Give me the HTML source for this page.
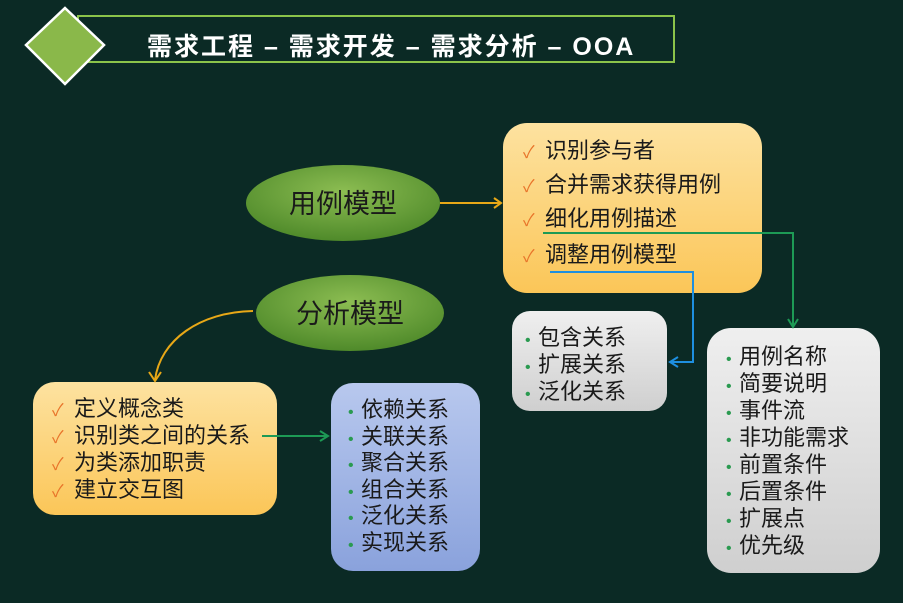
<!DOCTYPE html>
<html><head><meta charset="utf-8"><style>
body{margin:0;width:903px;height:603px;background:#0b2a25;position:relative;overflow:hidden;font-family:"Liberation Sans","Noto Sans CJK SC",sans-serif;}
.t{position:absolute;white-space:nowrap;color:#1a1a1a;font-size:22px;line-height:22px;}
.t div{height:27px;line-height:22px;}
.ck{color:#e8742a;font-size:17px;display:inline-block;width:22px;line-height:0;}
.dt{color:#2a9a50;font-size:16px;display:inline-block;width:13px;line-height:0;}
</style></head><body>
<svg width="903" height="603" style="position:absolute;left:0;top:0">
<defs>
<radialGradient id="eg" cx="50%" cy="35%" r="65%"><stop offset="0" stop-color="#8cbd52"/><stop offset="1" stop-color="#4f8a2a"/></radialGradient>
<linearGradient id="yg" x1="0" y1="0" x2="0" y2="1"><stop offset="0" stop-color="#fde2a0"/><stop offset="1" stop-color="#fbc658"/></linearGradient>
<linearGradient id="gg" x1="0" y1="0" x2="0" y2="1"><stop offset="0" stop-color="#efefef"/><stop offset="1" stop-color="#cfcfcf"/></linearGradient>
<linearGradient id="bg" x1="0" y1="0" x2="0" y2="1"><stop offset="0" stop-color="#b8c8ee"/><stop offset="1" stop-color="#8aa2dc"/></linearGradient>
</defs>
<rect x="78" y="16" width="596" height="46" fill="#0b2a25" stroke="#8bc34a" stroke-width="2"/>
<polygon points="65,8 104,45 65,84 26,45" fill="#8ab84a" stroke="#fff" stroke-width="2.5"/>
<text x="147" y="55" fill="#fff" font-size="25" font-weight="bold" letter-spacing="2" font-family="Liberation Sans,Noto Sans CJK SC,sans-serif">需求工程 – 需求开发 – 需求分析 – OOA</text>
<ellipse cx="343" cy="203" rx="97" ry="38" fill="url(#eg)"/>
<ellipse cx="350" cy="313" rx="94" ry="38" fill="url(#eg)"/>
<rect x="503" y="123" width="259" height="170" rx="24" fill="url(#yg)"/>
<rect x="512" y="311" width="155" height="100" rx="18" fill="url(#gg)"/>
<rect x="707" y="328" width="173" height="245" rx="24" fill="url(#gg)"/>
<rect x="33" y="382" width="244" height="133" rx="22" fill="url(#yg)"/>
<rect x="331" y="383" width="149" height="188" rx="22" fill="url(#bg)"/>
<g fill="none" stroke-width="2">
<path d="M440,203 H500" stroke="#e8a817"/>
<path d="M494,198 L501,203 L494,208" stroke="#e8a817"/>
<path d="M543,233 H793 V326" stroke="#1d9a55"/>
<path d="M788,319 L793,327 L798,319" stroke="#1d9a55"/>
<path d="M550,272 H693 V362 H671" stroke="#1e8fe0"/>
<path d="M678,357 L670,362 L678,367" stroke="#1e8fe0"/>
<path d="M253,311 C200,312 160,340 155,380" stroke="#e8a817"/>
<path d="M149,372 L155,381 L161,372" stroke="#e8a817"/>
<path d="M262,436 H327" stroke="#1d9a55"/>
<path d="M320,431 L328,436 L320,441" stroke="#1d9a55"/>
</g>
<text x="343" y="213" text-anchor="middle" font-size="27" fill="#1a1a1a" font-family="Liberation Sans,Noto Sans CJK SC,sans-serif">用例模型</text>
<text x="350" y="323" text-anchor="middle" font-size="27" fill="#1a1a1a" font-family="Liberation Sans,Noto Sans CJK SC,sans-serif">分析模型</text>
</svg>
<div class="t" style="left:523px;top:140px"><span class="ck">✓</span>识别参与者</div>
<div class="t" style="left:523px;top:174px"><span class="ck">✓</span>合并需求获得用例</div>
<div class="t" style="left:523px;top:208px"><span class="ck">✓</span>细化用例描述</div>
<div class="t" style="left:523px;top:244px"><span class="ck">✓</span>调整用例模型</div>
<div class="t" style="left:525px;top:327px"><div><span class="dt">•</span>包含关系</div><div><span class="dt">•</span>扩展关系</div><div><span class="dt">•</span>泛化关系</div></div>
<div class="t" style="left:726px;top:346px"><div><span class="dt">•</span>用例名称</div><div><span class="dt">•</span>简要说明</div><div><span class="dt">•</span>事件流</div><div><span class="dt">•</span>非功能需求</div><div><span class="dt">•</span>前置条件</div><div><span class="dt">•</span>后置条件</div><div><span class="dt">•</span>扩展点</div><div><span class="dt">•</span>优先级</div></div>
<div class="t" style="left:52px;top:398px"><div><span class="ck">✓</span>定义概念类</div><div><span class="ck">✓</span>识别类之间的关系</div><div><span class="ck">✓</span>为类添加职责</div><div><span class="ck">✓</span>建立交互图</div></div>
<div class="t" style="left:348px;top:399px"><div style="height:26.6px"><span class="dt">•</span>依赖关系</div><div style="height:26.6px"><span class="dt">•</span>关联关系</div><div style="height:26.6px"><span class="dt">•</span>聚合关系</div><div style="height:26.6px"><span class="dt">•</span>组合关系</div><div style="height:26.6px"><span class="dt">•</span>泛化关系</div><div style="height:26.6px"><span class="dt">•</span>实现关系</div></div>
</body></html>
